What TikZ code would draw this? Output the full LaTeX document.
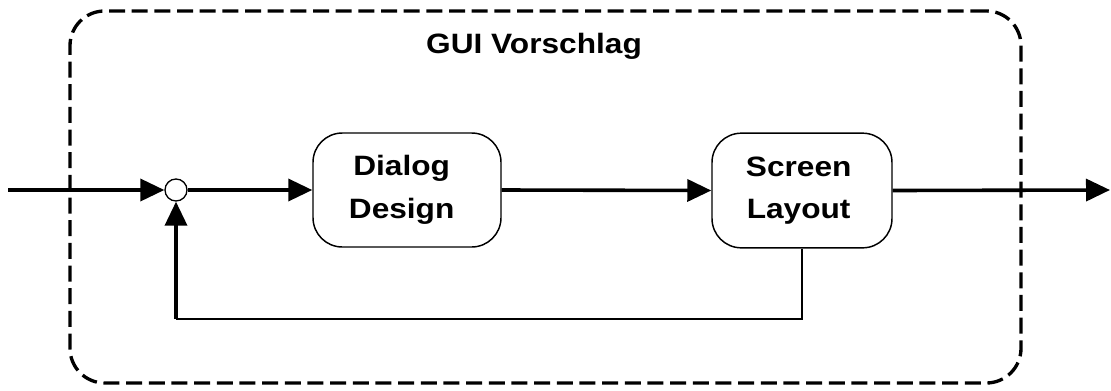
\documentclass[tikz,border=0pt]{standalone}
\usepackage{fontspec}
\setmainfont{Liberation Sans}
\usetikzlibrary{arrows.meta}
\newcommand{\stretchtxt}[1]{\scalebox{1.13}[1]{#1}}
\tikzset{
  lbl/.style={font=\bfseries\fontsize{21}{30}\selectfont, align=center, inner sep=0pt},
  block/.style={draw, line width=1.1pt, rounded corners=22pt, inner sep=0pt,
    font=\bfseries\fontsize{21}{32}\selectfont, align=center, fill=white},
  flow/.style={line width=2.7pt, -{Triangle[length=18pt,width=16.5pt]}},
  fbline/.style={line width=1.4pt},
  frame/.style={draw, line width=2.5pt, dash pattern=on 12pt off 5pt, rounded corners=26pt, inner sep=0pt},
  junc/.style={circle, draw, line width=1pt, minimum size=16.5pt, inner sep=0pt, fill=white}
}
\begin{document}
\begin{tikzpicture}[x=0.75pt,y=-0.75pt]
\useasboundingbox (0,0) rectangle (1111,390);
\coordinate (in) at (8,190);
\coordinate (out) at (1110,190);
\coordinate (fb) at (176,319);
\node[junc] (junction) at (176,190) {};
\node[block, minimum width=141pt, minimum height=85.5pt] (dialog) at (407,190)
  {\stretchtxt{Dialog}\kern8pt\\\stretchtxt{Design}\kern8pt};
\node[block, minimum width=135pt, minimum height=86pt] (screen) at (802,190.5)
  {\stretchtxt{Screen}\kern5pt\\\stretchtxt{Layout}\kern5pt};
\draw[flow] (in) -- (junction.west);
\draw[flow] (junction.east) -- (dialog.west);
\draw[flow] (dialog.east) -- (screen.west);
\draw[flow] (screen.east) -- (out);
\draw[fbline] (screen.south) |- (fb);
\draw[flow] (fb) -- (junction.south);
\node[frame, minimum width=713.25pt, minimum height=279pt] (box) at (545.5,197) {};
\node[lbl, anchor=base] (title) at (534,53) {\stretchtxt{GUI Vorschlag}};
\end{tikzpicture}
\end{document}
